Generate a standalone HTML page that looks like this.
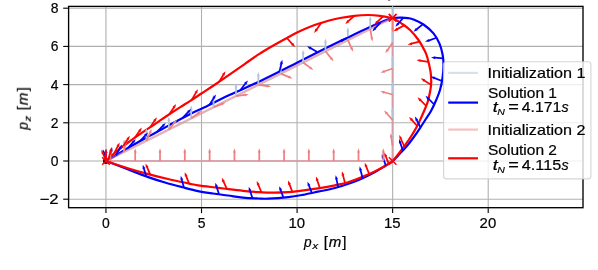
<!DOCTYPE html>
<html><head><meta charset="utf-8"><title>Trajectory plot</title>
<style>html,body{margin:0;padding:0;background:#fff;}body{width:598px;height:270px;position:relative;overflow:hidden;font-family:"Liberation Sans",sans-serif;}</style></head>
<body>
<svg width="598" height="270" viewBox="0 0 598 270" style="display:block;position:absolute;left:0;top:0">
<rect width="598" height="270" fill="#ffffff"/>
<rect x="388" y="0" width="2.2" height="0.8" fill="#666"/>
<defs><filter id="tf" x="-5%" y="-5%" width="110%" height="110%" color-interpolation-filters="sRGB"><feOffset dx="0" dy="0"/></filter><clipPath id="ax"><rect x="68.60" y="6.40" width="514.40" height="201.30"/></clipPath></defs>
<g stroke="#b0b0b0" stroke-width="1.1" fill="none"><path d="M105.95,6.40 V207.70"/><path d="M201.51,6.40 V207.70"/><path d="M297.08,6.40 V207.70"/><path d="M392.64,6.40 V207.70"/><path d="M488.21,6.40 V207.70"/><path d="M68.60,8.20 H583.00"/><path d="M68.60,46.40 H583.00"/><path d="M68.60,84.60 H583.00"/><path d="M68.60,122.80 H583.00"/><path d="M68.60,161.00 H583.00"/><path d="M68.60,199.20 H583.00"/></g>
<g clip-path="url(#ax)">
<circle cx="105.95" cy="161.00" r="2.9" fill="#000"/>
<path d="M105.95,161.00 L392.64,17.75 L392.64,161.00 L105.95,161.00" stroke="#b0c4de" stroke-opacity="0.5" stroke-width="2.20" fill="none" stroke-linejoin="round"/>
<path d="M106.00,161.00 C107.67,160.03 111.98,157.57 116.00,155.20 C120.02,152.83 124.40,150.07 130.10,146.80 C135.80,143.53 143.50,139.30 150.20,135.60 C156.90,131.90 163.62,128.20 170.30,124.60 C176.98,121.00 184.68,116.85 190.30,114.00 C195.92,111.15 197.38,110.70 204.00,107.50 C210.62,104.30 220.42,99.30 230.00,94.80 C239.58,90.30 250.33,85.83 261.50,80.50 C272.67,75.17 286.32,68.17 297.00,62.80 C307.68,57.43 317.25,52.45 325.60,48.30 C333.95,44.15 339.70,41.43 347.10,37.90 C354.50,34.37 363.68,29.98 370.00,27.10 C376.32,24.22 381.23,22.12 385.00,20.60 C388.77,19.08 389.82,18.50 392.60,18.00 C395.38,17.50 399.13,17.58 401.70,17.60 C404.27,17.62 406.05,17.80 408.00,18.10 C409.95,18.40 410.82,18.33 413.40,19.40 C415.98,20.47 420.15,22.17 423.50,24.50 C426.85,26.83 430.85,30.25 433.50,33.40 C436.15,36.55 437.87,39.80 439.40,43.40 C440.93,47.00 442.02,51.23 442.70,55.00 C443.38,58.77 443.53,62.17 443.50,66.00 C443.47,69.83 443.08,74.00 442.50,78.00 C441.92,82.00 441.05,86.33 440.00,90.00 C438.95,93.67 437.70,96.50 436.20,100.00 C434.70,103.50 432.67,107.92 431.00,111.00 C429.33,114.08 428.00,115.70 426.20,118.50 C424.40,121.30 422.20,124.80 420.20,127.80 C418.20,130.80 416.42,133.47 414.20,136.50 C411.98,139.53 409.27,143.17 406.90,146.00 C404.53,148.83 402.37,151.00 400.00,153.50 C397.63,156.00 395.15,158.95 392.70,161.00 C390.25,163.05 388.25,163.97 385.30,165.80 C382.35,167.63 378.78,169.93 375.00,172.00 C371.22,174.07 366.77,176.32 362.60,178.20 C358.43,180.08 354.60,181.67 350.00,183.30 C345.40,184.93 340.33,186.60 335.00,188.00 C329.67,189.40 323.33,190.57 318.00,191.70 C312.67,192.83 307.95,193.90 303.00,194.80 C298.05,195.70 294.10,196.45 288.30,197.10 C282.50,197.75 273.22,198.47 268.20,198.70 C263.18,198.93 262.40,198.68 258.20,198.50 C254.00,198.32 248.03,198.10 243.00,197.60 C237.97,197.10 233.00,196.18 228.00,195.50 C223.00,194.82 218.00,194.23 213.00,193.50 C208.00,192.77 203.12,192.15 198.00,191.10 C192.88,190.05 187.80,188.63 182.30,187.20 C176.80,185.77 170.68,184.18 165.00,182.50 C159.32,180.82 154.53,179.35 148.20,177.10 C141.87,174.85 134.03,171.68 127.00,169.00 C119.97,166.32 109.50,162.33 106.00,161.00" stroke="#0000ff" stroke-width="2.20" fill="none" stroke-linejoin="round" stroke-linecap="round"/>
<path d="M105.95,161.00 L392.64,161.00 L392.64,17.75 L105.95,161.00" stroke="#f08080" stroke-opacity="0.5" stroke-width="2.20" fill="none" stroke-linejoin="round"/>
<path d="M106.00,161.00 C106.83,160.20 109.33,157.73 111.00,156.20 C112.67,154.67 113.48,153.83 116.00,151.80 C118.52,149.77 122.42,146.73 126.10,144.00 C129.78,141.27 133.92,138.30 138.10,135.40 C142.28,132.50 147.52,129.10 151.20,126.60 C154.88,124.10 157.02,122.57 160.20,120.40 C163.38,118.23 166.95,115.82 170.30,113.60 C173.65,111.38 176.97,109.23 180.30,107.10 C183.63,104.97 186.78,103.07 190.30,100.80 C193.82,98.53 197.27,96.22 201.40,93.50 C205.53,90.78 210.00,87.93 215.10,84.50 C220.20,81.07 227.02,76.35 232.00,72.90 C236.98,69.45 240.50,66.92 245.00,63.80 C249.50,60.68 254.50,57.12 259.00,54.20 C263.50,51.28 267.67,48.83 272.00,46.30 C276.33,43.77 280.73,41.33 285.00,39.00 C289.27,36.67 293.10,34.47 297.60,32.30 C302.10,30.13 306.88,27.92 312.00,26.00 C317.12,24.08 323.63,22.13 328.30,20.80 C332.97,19.47 335.65,18.83 340.00,18.00 C344.35,17.17 349.73,16.30 354.40,15.80 C359.07,15.30 363.73,14.98 368.00,15.00 C372.27,15.02 375.90,15.35 380.00,15.90 C384.10,16.45 388.98,17.02 392.60,18.30 C396.22,19.58 398.78,21.65 401.70,23.60 C404.62,25.55 407.30,27.27 410.10,30.00 C412.90,32.73 416.13,36.67 418.50,40.00 C420.87,43.33 422.85,47.17 424.30,50.00 C425.75,52.83 426.15,53.33 427.20,57.00 C428.25,60.67 429.93,67.83 430.60,72.00 C431.27,76.17 431.23,79.00 431.20,82.00 C431.17,85.00 430.90,87.00 430.40,90.00 C429.90,93.00 428.90,97.33 428.20,100.00 C427.50,102.67 427.37,103.08 426.20,106.00 C425.03,108.92 422.70,114.17 421.20,117.50 C419.70,120.83 418.90,122.83 417.20,126.00 C415.50,129.17 413.08,133.23 411.00,136.50 C408.92,139.77 407.75,141.52 404.70,145.60 C401.65,149.68 395.43,157.93 392.70,161.00 C389.97,164.07 389.70,163.08 388.30,164.00 C386.90,164.92 387.48,164.83 384.30,166.50 C381.12,168.17 375.23,171.38 369.20,174.00 C363.17,176.62 353.80,180.32 348.10,182.20 C342.40,184.08 340.02,184.28 335.00,185.30 C329.98,186.32 324.12,187.33 318.00,188.30 C311.88,189.27 303.30,190.45 298.30,191.10 C293.30,191.75 292.00,191.93 288.00,192.20 C284.00,192.47 279.27,192.72 274.30,192.70 C269.33,192.68 263.42,192.42 258.20,192.10 C252.98,191.78 248.03,191.30 243.00,190.80 C237.97,190.30 232.17,189.60 228.00,189.10 C223.83,188.60 223.00,188.42 218.00,187.80 C213.00,187.18 202.95,186.13 198.00,185.40 C193.05,184.67 193.30,184.47 188.30,183.40 C183.30,182.33 174.68,180.55 168.00,179.00 C161.32,177.45 155.03,175.93 148.20,174.10 C141.37,172.27 134.03,170.18 127.00,168.00 C119.97,165.82 109.50,162.17 106.00,161.00" stroke="#ff0000" stroke-width="2.20" fill="none" stroke-linejoin="round" stroke-linecap="round"/>
<path d="M392.64,17.75 L392.64,8.65" stroke="#b0c4de" stroke-width="1.75" fill="none"/><path d="M392.64,4.95 L394.12,9.15 L391.17,9.15 Z" fill="#b0c4de"/>
<path d="M370.26,28.93 L370.26,19.83" stroke="#b0c4de" stroke-width="1.75" fill="none"/><path d="M370.26,16.13 L371.74,20.33 L368.79,20.33 Z" fill="#b0c4de"/>
<path d="M347.88,40.12 L347.88,31.02" stroke="#b0c4de" stroke-width="1.75" fill="none"/><path d="M347.88,27.32 L349.36,31.52 L346.41,31.52 Z" fill="#b0c4de"/>
<path d="M325.50,51.30 L325.50,42.20" stroke="#b0c4de" stroke-width="1.75" fill="none"/><path d="M325.50,38.50 L326.98,42.70 L324.03,42.70 Z" fill="#b0c4de"/>
<path d="M303.12,62.48 L303.12,53.38" stroke="#b0c4de" stroke-width="1.75" fill="none"/><path d="M303.12,49.68 L304.59,53.88 L301.64,53.88 Z" fill="#b0c4de"/>
<path d="M280.74,73.67 L280.74,64.57" stroke="#b0c4de" stroke-width="1.75" fill="none"/><path d="M280.74,60.87 L282.21,65.07 L279.26,65.07 Z" fill="#b0c4de"/>
<path d="M258.36,84.85 L258.36,75.75" stroke="#b0c4de" stroke-width="1.75" fill="none"/><path d="M258.36,72.05 L259.83,76.25 L256.88,76.25 Z" fill="#b0c4de"/>
<path d="M235.97,96.03 L235.97,86.93" stroke="#b0c4de" stroke-width="1.75" fill="none"/><path d="M235.97,83.23 L237.45,87.43 L234.50,87.43 Z" fill="#b0c4de"/>
<path d="M213.59,107.22 L213.59,98.12" stroke="#b0c4de" stroke-width="1.75" fill="none"/><path d="M213.59,94.42 L215.07,98.62 L212.12,98.62 Z" fill="#b0c4de"/>
<path d="M191.21,118.40 L191.21,109.30" stroke="#b0c4de" stroke-width="1.75" fill="none"/><path d="M191.21,105.60 L192.69,109.80 L189.74,109.80 Z" fill="#b0c4de"/>
<path d="M168.83,129.58 L168.83,120.48" stroke="#b0c4de" stroke-width="1.75" fill="none"/><path d="M168.83,116.78 L170.30,120.98 L167.35,120.98 Z" fill="#b0c4de"/>
<path d="M146.45,140.77 L146.45,131.67" stroke="#b0c4de" stroke-width="1.75" fill="none"/><path d="M146.45,127.97 L147.92,132.17 L144.97,132.17 Z" fill="#b0c4de"/>
<path d="M124.07,151.95 L124.07,142.85" stroke="#b0c4de" stroke-width="1.75" fill="none"/><path d="M124.07,139.15 L125.54,143.35 L122.59,143.35 Z" fill="#b0c4de"/>
<path d="M392.64,42.70 L392.64,33.60" stroke="#b0c4de" stroke-width="1.75" fill="none"/><path d="M392.64,29.90 L394.12,34.10 L391.17,34.10 Z" fill="#b0c4de"/>
<path d="M392.64,68.50 L392.64,59.40" stroke="#b0c4de" stroke-width="1.75" fill="none"/><path d="M392.64,55.70 L394.12,59.90 L391.17,59.90 Z" fill="#b0c4de"/>
<path d="M392.64,94.50 L392.64,85.40" stroke="#b0c4de" stroke-width="1.75" fill="none"/><path d="M392.64,81.70 L394.12,85.90 L391.17,85.90 Z" fill="#b0c4de"/>
<path d="M392.64,120.00 L392.64,110.90" stroke="#b0c4de" stroke-width="1.75" fill="none"/><path d="M392.64,107.20 L394.12,111.40 L391.17,111.40 Z" fill="#b0c4de"/>
<path d="M392.64,145.80 L392.64,136.70" stroke="#b0c4de" stroke-width="1.75" fill="none"/><path d="M392.64,133.00 L394.12,137.20 L391.17,137.20 Z" fill="#b0c4de"/>
<path d="M209.51,104.80 L214.01,97.59" stroke="#0000ff" stroke-width="1.75" fill="none"/><path d="M215.97,94.45 L215.00,98.80 L212.50,97.23 Z" fill="#0000ff"/>
<path d="M240.46,90.05 L245.64,83.31" stroke="#0000ff" stroke-width="1.75" fill="none"/><path d="M247.90,80.38 L246.51,84.61 L244.17,82.81 Z" fill="#0000ff"/>
<path d="M279.43,71.66 L281.46,63.41" stroke="#0000ff" stroke-width="1.75" fill="none"/><path d="M282.34,59.81 L282.77,64.24 L279.91,63.54 Z" fill="#0000ff"/>
<path d="M317.76,52.25 L310.34,48.09" stroke="#0000ff" stroke-width="1.75" fill="none"/><path d="M307.11,46.29 L311.50,47.05 L310.06,49.63 Z" fill="#0000ff"/>
<path d="M349.37,36.82 L341.78,40.65" stroke="#0000ff" stroke-width="1.75" fill="none"/><path d="M338.48,42.32 L341.56,39.11 L342.90,41.74 Z" fill="#0000ff"/>
<path d="M380.61,22.42 L374.85,28.66" stroke="#0000ff" stroke-width="1.75" fill="none"/><path d="M372.34,31.38 L374.10,27.30 L376.27,29.30 Z" fill="#0000ff"/>
<path d="M403.49,17.64 L397.83,23.98" stroke="#0000ff" stroke-width="1.75" fill="none"/><path d="M395.37,26.74 L397.06,22.63 L399.26,24.59 Z" fill="#0000ff"/>
<path d="M422.99,24.15 L416.38,29.49" stroke="#0000ff" stroke-width="1.75" fill="none"/><path d="M413.50,31.82 L415.84,28.03 L417.69,30.33 Z" fill="#0000ff"/>
<path d="M436.58,37.74 L428.56,40.56" stroke="#0000ff" stroke-width="1.75" fill="none"/><path d="M425.07,41.79 L428.54,39.00 L429.52,41.79 Z" fill="#0000ff"/>
<path d="M443.18,58.31 L434.70,57.72" stroke="#0000ff" stroke-width="1.75" fill="none"/><path d="M431.01,57.47 L435.30,56.29 L435.10,59.23 Z" fill="#0000ff"/>
<path d="M442.01,81.05 L434.12,77.89" stroke="#0000ff" stroke-width="1.75" fill="none"/><path d="M430.68,76.52 L435.13,76.71 L434.04,79.45 Z" fill="#0000ff"/>
<path d="M434.20,104.50 L428.19,98.49" stroke="#0000ff" stroke-width="1.75" fill="none"/><path d="M425.57,95.87 L429.59,97.80 L427.50,99.88 Z" fill="#0000ff"/>
<path d="M420.50,127.35 L416.63,119.78" stroke="#0000ff" stroke-width="1.75" fill="none"/><path d="M414.95,116.48 L418.17,119.55 L415.55,120.89 Z" fill="#0000ff"/>
<path d="M402.77,150.60 L400.19,142.50" stroke="#0000ff" stroke-width="1.75" fill="none"/><path d="M399.07,138.97 L401.75,142.53 L398.94,143.42 Z" fill="#0000ff"/>
<path d="M385.74,165.53 L382.99,157.49" stroke="#0000ff" stroke-width="1.75" fill="none"/><path d="M381.79,153.99 L384.54,157.48 L381.75,158.44 Z" fill="#0000ff"/>
<path d="M362.60,178.20 L360.52,169.96" stroke="#0000ff" stroke-width="1.75" fill="none"/><path d="M359.62,166.37 L362.07,170.08 L359.21,170.80 Z" fill="#0000ff"/>
<path d="M338.17,187.13 L336.43,178.81" stroke="#0000ff" stroke-width="1.75" fill="none"/><path d="M335.67,175.19 L337.97,179.00 L335.09,179.60 Z" fill="#0000ff"/>
<path d="M311.84,193.02 L308.80,185.08" stroke="#0000ff" stroke-width="1.75" fill="none"/><path d="M307.48,181.63 L310.36,185.02 L307.60,186.08 Z" fill="#0000ff"/>
<path d="M283.42,197.59 L280.50,189.61" stroke="#0000ff" stroke-width="1.75" fill="none"/><path d="M279.23,186.13 L282.06,189.57 L279.29,190.58 Z" fill="#0000ff"/>
<path d="M252.48,198.25 L249.89,190.15" stroke="#0000ff" stroke-width="1.75" fill="none"/><path d="M248.76,186.63 L251.45,190.18 L248.64,191.08 Z" fill="#0000ff"/>
<path d="M219.00,194.32 L216.43,186.22" stroke="#0000ff" stroke-width="1.75" fill="none"/><path d="M215.31,182.70 L217.99,186.25 L215.17,187.14 Z" fill="#0000ff"/>
<path d="M183.94,187.63 L181.72,179.42" stroke="#0000ff" stroke-width="1.75" fill="none"/><path d="M180.75,175.85 L183.27,179.52 L180.43,180.29 Z" fill="#0000ff"/>
<path d="M146.26,176.40 L143.81,168.26" stroke="#0000ff" stroke-width="1.75" fill="none"/><path d="M142.75,164.71 L145.37,168.31 L142.55,169.16 Z" fill="#0000ff"/>
<path d="M106.27,160.84 L103.85,152.70" stroke="#0000ff" stroke-width="1.75" fill="none"/><path d="M102.79,149.15 L105.40,152.76 L102.58,153.60 Z" fill="#0000ff"/>
<path d="M182.76,117.93 L188.54,111.69" stroke="#0000ff" stroke-width="1.75" fill="none"/><path d="M191.05,108.98 L189.28,113.06 L187.12,111.06 Z" fill="#0000ff"/>
<path d="M157.24,131.72 L163.12,125.58" stroke="#0000ff" stroke-width="1.75" fill="none"/><path d="M165.67,122.91 L163.84,126.96 L161.71,124.92 Z" fill="#0000ff"/>
<path d="M139.78,141.36 L145.58,135.16" stroke="#0000ff" stroke-width="1.75" fill="none"/><path d="M148.11,132.45 L146.32,136.53 L144.16,134.51 Z" fill="#0000ff"/>
<path d="M127.62,148.24 L133.31,141.92" stroke="#0000ff" stroke-width="1.75" fill="none"/><path d="M135.79,139.18 L134.07,143.28 L131.88,141.31 Z" fill="#0000ff"/>
<path d="M116.00,155.20 L120.18,147.80" stroke="#0000ff" stroke-width="1.75" fill="none"/><path d="M121.99,144.57 L121.22,148.96 L118.65,147.51 Z" fill="#0000ff"/>
<path d="M109.08,159.22 L111.26,151.01" stroke="#0000ff" stroke-width="1.75" fill="none"/><path d="M112.21,147.43 L112.56,151.87 L109.71,151.11 Z" fill="#0000ff"/>
<path d="M106.00,161.00 L106.00,152.50" stroke="#0000ff" stroke-width="1.75" fill="none"/><path d="M106.00,148.80 L107.47,153.00 L104.53,153.00 Z" fill="#0000ff"/>
<path d="M110.40,161.00 L110.40,151.90" stroke="#f08080" stroke-width="1.75" fill="none"/><path d="M110.40,148.20 L111.88,152.40 L108.93,152.40 Z" fill="#f08080"/>
<path d="M135.21,161.00 L135.21,151.90" stroke="#f08080" stroke-width="1.75" fill="none"/><path d="M135.21,148.20 L136.69,152.40 L133.74,152.40 Z" fill="#f08080"/>
<path d="M160.02,161.00 L160.02,151.90" stroke="#f08080" stroke-width="1.75" fill="none"/><path d="M160.02,148.20 L161.50,152.40 L158.55,152.40 Z" fill="#f08080"/>
<path d="M184.83,161.00 L184.83,151.90" stroke="#f08080" stroke-width="1.75" fill="none"/><path d="M184.83,148.20 L186.30,152.40 L183.35,152.40 Z" fill="#f08080"/>
<path d="M209.64,161.00 L209.64,151.90" stroke="#f08080" stroke-width="1.75" fill="none"/><path d="M209.64,148.20 L211.11,152.40 L208.16,152.40 Z" fill="#f08080"/>
<path d="M234.45,161.00 L234.45,151.90" stroke="#f08080" stroke-width="1.75" fill="none"/><path d="M234.45,148.20 L235.92,152.40 L232.97,152.40 Z" fill="#f08080"/>
<path d="M259.26,161.00 L259.26,151.90" stroke="#f08080" stroke-width="1.75" fill="none"/><path d="M259.26,148.20 L260.74,152.40 L257.78,152.40 Z" fill="#f08080"/>
<path d="M284.07,161.00 L284.07,151.90" stroke="#f08080" stroke-width="1.75" fill="none"/><path d="M284.07,148.20 L285.55,152.40 L282.59,152.40 Z" fill="#f08080"/>
<path d="M308.88,161.00 L308.88,151.90" stroke="#f08080" stroke-width="1.75" fill="none"/><path d="M308.88,148.20 L310.36,152.40 L307.40,152.40 Z" fill="#f08080"/>
<path d="M333.69,161.00 L333.69,151.90" stroke="#f08080" stroke-width="1.75" fill="none"/><path d="M333.69,148.20 L335.17,152.40 L332.21,152.40 Z" fill="#f08080"/>
<path d="M358.50,161.00 L358.50,151.90" stroke="#f08080" stroke-width="1.75" fill="none"/><path d="M358.50,148.20 L359.98,152.40 L357.02,152.40 Z" fill="#f08080"/>
<path d="M383.31,161.00 L383.31,151.90" stroke="#f08080" stroke-width="1.75" fill="none"/><path d="M383.31,148.20 L384.78,152.40 L381.83,152.40 Z" fill="#f08080"/>
<path d="M392.64,42.70 L387.43,50.15" stroke="#f08080" stroke-width="1.75" fill="none"/><path d="M385.30,53.19 L386.50,48.90 L388.92,50.59 Z" fill="#f08080"/>
<path d="M392.64,68.50 L384.04,71.46" stroke="#f08080" stroke-width="1.75" fill="none"/><path d="M380.54,72.67 L384.03,69.91 L384.99,72.69 Z" fill="#f08080"/>
<path d="M392.64,94.50 L383.83,92.25" stroke="#f08080" stroke-width="1.75" fill="none"/><path d="M380.24,91.34 L384.68,90.95 L383.95,93.81 Z" fill="#f08080"/>
<path d="M392.64,120.00 L386.56,113.24" stroke="#f08080" stroke-width="1.75" fill="none"/><path d="M384.08,110.49 L387.99,112.62 L385.79,114.60 Z" fill="#f08080"/>
<path d="M392.64,145.80 L391.22,136.81" stroke="#f08080" stroke-width="1.75" fill="none"/><path d="M390.64,133.16 L392.76,137.08 L389.84,137.54 Z" fill="#f08080"/>
<path d="M392.64,20.00 L392.64,29.10" stroke="#f08080" stroke-width="1.75" fill="none"/><path d="M392.64,32.80 L391.17,28.60 L394.12,28.60 Z" fill="#f08080"/>
<path d="M370.26,28.93 L371.78,37.91" stroke="#f08080" stroke-width="1.75" fill="none"/><path d="M372.40,41.55 L370.24,37.66 L373.15,37.17 Z" fill="#f08080"/>
<path d="M347.88,40.12 L351.61,48.42" stroke="#f08080" stroke-width="1.75" fill="none"/><path d="M353.13,51.79 L350.06,48.57 L352.75,47.36 Z" fill="#f08080"/>
<path d="M325.50,51.30 L331.20,58.39" stroke="#f08080" stroke-width="1.75" fill="none"/><path d="M333.52,61.28 L329.74,58.93 L332.04,57.08 Z" fill="#f08080"/>
<path d="M303.12,62.48 L310.42,67.91" stroke="#f08080" stroke-width="1.75" fill="none"/><path d="M313.39,70.11 L309.14,68.79 L310.90,66.43 Z" fill="#f08080"/>
<path d="M280.74,73.67 L289.17,77.07" stroke="#f08080" stroke-width="1.75" fill="none"/><path d="M292.60,78.46 L288.16,78.26 L289.26,75.52 Z" fill="#f08080"/>
<path d="M258.36,84.85 L267.38,86.02" stroke="#f08080" stroke-width="1.75" fill="none"/><path d="M271.05,86.50 L266.69,87.42 L267.07,84.49 Z" fill="#f08080"/>
<path d="M235.97,96.03 L245.00,94.89" stroke="#f08080" stroke-width="1.75" fill="none"/><path d="M248.67,94.43 L244.69,96.42 L244.32,93.49 Z" fill="#f08080"/>
<path d="M213.59,107.22 L222.04,103.84" stroke="#f08080" stroke-width="1.75" fill="none"/><path d="M225.48,102.46 L222.12,105.39 L221.03,102.65 Z" fill="#f08080"/>
<path d="M191.21,118.40 L198.54,113.00" stroke="#f08080" stroke-width="1.75" fill="none"/><path d="M201.51,110.80 L199.01,114.48 L197.26,112.11 Z" fill="#f08080"/>
<path d="M168.83,129.58 L174.56,122.51" stroke="#f08080" stroke-width="1.75" fill="none"/><path d="M176.88,119.63 L175.39,123.83 L173.09,121.97 Z" fill="#f08080"/>
<path d="M146.45,140.77 L150.21,132.48" stroke="#f08080" stroke-width="1.75" fill="none"/><path d="M151.74,129.11 L151.34,133.54 L148.66,132.32 Z" fill="#f08080"/>
<path d="M124.07,151.95 L125.61,142.98" stroke="#f08080" stroke-width="1.75" fill="none"/><path d="M126.24,139.34 L126.98,143.72 L124.08,143.22 Z" fill="#f08080"/>
<path d="M106.14,160.87 L102.81,153.05" stroke="#ff0000" stroke-width="1.75" fill="none"/><path d="M101.36,149.64 L104.36,152.93 L101.65,154.08 Z" fill="#ff0000"/>
<path d="M150.23,174.64 L146.96,166.80" stroke="#ff0000" stroke-width="1.75" fill="none"/><path d="M145.53,163.39 L148.51,166.69 L145.79,167.83 Z" fill="#ff0000"/>
<path d="M189.01,183.55 L186.00,175.61" stroke="#ff0000" stroke-width="1.75" fill="none"/><path d="M184.69,172.15 L187.56,175.55 L184.80,176.60 Z" fill="#ff0000"/>
<path d="M226.84,188.96 L223.33,181.22" stroke="#ff0000" stroke-width="1.75" fill="none"/><path d="M221.79,177.85 L224.87,181.07 L222.19,182.29 Z" fill="#ff0000"/>
<path d="M261.40,192.28 L258.13,184.44" stroke="#ff0000" stroke-width="1.75" fill="none"/><path d="M256.71,181.02 L259.69,184.33 L256.96,185.47 Z" fill="#ff0000"/>
<path d="M292.34,191.84 L289.30,183.90" stroke="#ff0000" stroke-width="1.75" fill="none"/><path d="M287.98,180.45 L290.86,183.84 L288.10,184.90 Z" fill="#ff0000"/>
<path d="M319.83,188.01 L317.14,179.94" stroke="#ff0000" stroke-width="1.75" fill="none"/><path d="M315.97,176.43 L318.70,179.95 L315.90,180.89 Z" fill="#ff0000"/>
<path d="M345.03,183.15 L342.91,174.92" stroke="#ff0000" stroke-width="1.75" fill="none"/><path d="M341.99,171.33 L344.46,175.03 L341.61,175.77 Z" fill="#ff0000"/>
<path d="M369.20,174.00 L366.04,166.11" stroke="#ff0000" stroke-width="1.75" fill="none"/><path d="M364.67,162.67 L367.60,166.02 L364.86,167.12 Z" fill="#ff0000"/>
<path d="M388.69,163.78 L385.64,155.84" stroke="#ff0000" stroke-width="1.75" fill="none"/><path d="M384.31,152.39 L387.19,155.78 L384.44,156.84 Z" fill="#ff0000"/>
<path d="M404.22,146.24 L400.73,138.49" stroke="#ff0000" stroke-width="1.75" fill="none"/><path d="M399.21,135.12 L402.28,138.34 L399.59,139.55 Z" fill="#ff0000"/>
<path d="M417.20,126.00 L411.54,119.66" stroke="#ff0000" stroke-width="1.75" fill="none"/><path d="M409.08,116.89 L412.98,119.05 L410.78,121.01 Z" fill="#ff0000"/>
<path d="M426.20,106.00 L420.19,99.99" stroke="#ff0000" stroke-width="1.75" fill="none"/><path d="M417.57,97.37 L421.59,99.30 L419.50,101.39 Z" fill="#ff0000"/>
<path d="M431.08,84.87 L423.91,80.29" stroke="#ff0000" stroke-width="1.75" fill="none"/><path d="M420.80,78.30 L425.13,79.32 L423.54,81.81 Z" fill="#ff0000"/>
<path d="M428.46,61.86 L420.06,60.56" stroke="#ff0000" stroke-width="1.75" fill="none"/><path d="M416.41,59.99 L420.78,59.18 L420.33,62.09 Z" fill="#ff0000"/>
<path d="M419.54,41.53 L411.32,43.70" stroke="#ff0000" stroke-width="1.75" fill="none"/><path d="M407.74,44.64 L411.43,42.14 L412.18,44.99 Z" fill="#ff0000"/>
<path d="M404.27,25.33 L396.80,29.38" stroke="#ff0000" stroke-width="1.75" fill="none"/><path d="M393.55,31.15 L396.54,27.85 L397.95,30.44 Z" fill="#ff0000"/>
<path d="M383.19,16.33 L376.96,22.11" stroke="#ff0000" stroke-width="1.75" fill="none"/><path d="M374.25,24.63 L376.32,20.69 L378.33,22.85 Z" fill="#ff0000"/>
<path d="M354.40,15.80 L348.05,21.45" stroke="#ff0000" stroke-width="1.75" fill="none"/><path d="M345.28,23.91 L347.44,20.01 L349.40,22.22 Z" fill="#ff0000"/>
<path d="M321.17,22.92 L316.30,29.88" stroke="#ff0000" stroke-width="1.75" fill="none"/><path d="M314.18,32.91 L315.38,28.62 L317.79,30.32 Z" fill="#ff0000"/>
<path d="M286.89,37.96 L292.56,44.30" stroke="#ff0000" stroke-width="1.75" fill="none"/><path d="M295.03,47.05 L291.13,44.91 L293.33,42.94 Z" fill="#ff0000"/>
<path d="M219.19,81.72 L223.56,74.44" stroke="#ff0000" stroke-width="1.75" fill="none"/><path d="M225.47,71.26 L224.57,75.62 L222.04,74.11 Z" fill="#ff0000"/>
<path d="M191.88,99.78 L196.10,92.40" stroke="#ff0000" stroke-width="1.75" fill="none"/><path d="M197.93,89.18 L197.13,93.56 L194.57,92.10 Z" fill="#ff0000"/>
<path d="M169.29,114.27 L174.00,107.20" stroke="#ff0000" stroke-width="1.75" fill="none"/><path d="M176.06,104.12 L174.95,108.43 L172.50,106.80 Z" fill="#ff0000"/>
<path d="M150.05,127.38 L154.85,120.36" stroke="#ff0000" stroke-width="1.75" fill="none"/><path d="M156.94,117.31 L155.79,121.61 L153.35,119.94 Z" fill="#ff0000"/>
<path d="M134.98,137.58 L139.78,130.57" stroke="#ff0000" stroke-width="1.75" fill="none"/><path d="M141.87,127.52 L140.72,131.82 L138.28,130.15 Z" fill="#ff0000"/>
<path d="M123.32,146.09 L127.88,138.91" stroke="#ff0000" stroke-width="1.75" fill="none"/><path d="M129.86,135.78 L128.85,140.12 L126.36,138.54 Z" fill="#ff0000"/>
<path d="M114.13,153.36 L118.02,145.80" stroke="#ff0000" stroke-width="1.75" fill="none"/><path d="M119.72,142.51 L119.10,146.92 L116.48,145.57 Z" fill="#ff0000"/>
<path d="M108.47,158.60 L110.89,150.45" stroke="#ff0000" stroke-width="1.75" fill="none"/><path d="M111.95,146.91 L112.16,151.35 L109.34,150.51 Z" fill="#ff0000"/>
<path d="M106.00,161.00 L106.00,152.50" stroke="#ff0000" stroke-width="1.75" fill="none"/><path d="M106.00,148.80 L107.47,153.00 L104.53,153.00 Z" fill="#ff0000"/>
</g>
<path d="M388.84,13.95 L396.44,21.55 M388.84,21.55 L396.44,13.95" stroke="#ff0000" stroke-width="1.45" fill="none"/>
<path d="M388.84,157.20 L396.44,164.80 M388.84,164.80 L396.44,157.20" stroke="#ff0000" stroke-width="1.45" fill="none"/>
<path d="M102.15,157.20 L109.75,164.80 M102.15,164.80 L109.75,157.20" stroke="#ff0000" stroke-width="1.45" fill="none"/>
<rect x="68.60" y="6.40" width="514.40" height="201.30" fill="none" stroke="#000" stroke-width="1.35"/>
<path d="M392.64,17.75 L392.64,8.65" stroke="#b0c4de" stroke-width="1.75" fill="none"/><path d="M392.64,4.95 L394.12,9.15 L391.17,9.15 Z" fill="#b0c4de"/>
<path d="M388.84,13.95 L396.44,21.55 M388.84,21.55 L396.44,13.95" stroke="#ff0000" stroke-width="1.45" fill="none"/>
<g stroke="#000" stroke-width="1.1"><path d="M105.95,208.20 v4.9"/><path d="M201.51,208.20 v4.9"/><path d="M297.08,208.20 v4.9"/><path d="M392.64,208.20 v4.9"/><path d="M488.21,208.20 v4.9"/><path d="M68.10,8.20 h-4.9"/><path d="M68.10,46.40 h-4.9"/><path d="M68.10,84.60 h-4.9"/><path d="M68.10,122.80 h-4.9"/><path d="M68.10,161.00 h-4.9"/><path d="M68.10,199.20 h-4.9"/></g>
<g font-family="'Liberation Sans', sans-serif" font-size="13.9" fill="#000" stroke="#000" stroke-width="0.2" filter="url(#tf)">
<text x="105.95" y="228.2" text-anchor="middle">0</text>
<text x="201.51" y="228.2" text-anchor="middle">5</text>
<text x="296.78" y="228.2" text-anchor="middle" textLength="16.6" lengthAdjust="spacingAndGlyphs">10</text>
<text x="392.34" y="228.2" text-anchor="middle" textLength="16.6" lengthAdjust="spacingAndGlyphs">15</text>
<text x="487.91" y="228.2" text-anchor="middle" textLength="16.6" lengthAdjust="spacingAndGlyphs">20</text>
<text x="58.6" y="13.20" text-anchor="end">8</text>
<text x="58.6" y="51.40" text-anchor="end">6</text>
<text x="58.6" y="89.60" text-anchor="end">4</text>
<text x="58.6" y="127.80" text-anchor="end">2</text>
<text x="58.6" y="166.00" text-anchor="end">0</text>
<text x="58.6" y="204.20" text-anchor="end" textLength="19.0" lengthAdjust="spacingAndGlyphs">−2</text>
</g>
<g transform="translate(304.1,246.7)"><g font-family="'Liberation Sans', sans-serif" fill="#000" stroke="#000" stroke-width="0.2" filter="url(#tf)"><text x="0" y="0" font-size="13.9" font-style="italic" textLength="7.6" lengthAdjust="spacingAndGlyphs">p</text><text x="8.3" y="2.6" font-size="9.7" font-style="italic" textLength="5.6" lengthAdjust="spacingAndGlyphs">x</text><text x="19.6" y="0" font-size="13.9" textLength="4.2" lengthAdjust="spacingAndGlyphs">[</text><text x="24.6" y="0" font-size="13.9" font-style="italic" textLength="12.6" lengthAdjust="spacingAndGlyphs">m</text><text x="38.2" y="0" font-size="13.9" textLength="4.2" lengthAdjust="spacingAndGlyphs">]</text></g></g>
<g transform="translate(27.8,129.7) rotate(-90)"><g font-family="'Liberation Sans', sans-serif" fill="#000" stroke="#000" stroke-width="0.2" filter="url(#tf)"><text x="0" y="0" font-size="13.9" font-style="italic" textLength="7.6" lengthAdjust="spacingAndGlyphs">p</text><text x="8.3" y="2.6" font-size="9.7" font-style="italic" textLength="5.6" lengthAdjust="spacingAndGlyphs">z</text><text x="19.6" y="0" font-size="13.9" textLength="4.2" lengthAdjust="spacingAndGlyphs">[</text><text x="24.6" y="0" font-size="13.9" font-style="italic" textLength="12.6" lengthAdjust="spacingAndGlyphs">m</text><text x="38.2" y="0" font-size="13.9" textLength="4.2" lengthAdjust="spacingAndGlyphs">]</text></g></g>
<rect x="443.6" y="61.7" width="147.3" height="117.2" rx="2.8" ry="2.8" fill="#ffffff" fill-opacity="0.8" stroke="#cccccc" stroke-opacity="0.8" stroke-width="1.1"/>
<path d="M448.2,72.90 H478" stroke="#b0c4de" stroke-opacity="0.5" stroke-width="2.2"/>
<path d="M448.2,102.60 H478" stroke="#0000ff" stroke-opacity="1" stroke-width="2.2"/>
<path d="M448.2,129.60 H478" stroke="#f08080" stroke-opacity="0.5" stroke-width="2.2"/>
<path d="M448.2,158.30 H478" stroke="#ff0000" stroke-opacity="1" stroke-width="2.2"/>
<g font-family="'Liberation Sans', sans-serif" font-size="13.9" fill="#000" stroke="#000" stroke-width="0.2" filter="url(#tf)">
<text x="487.5" y="78" textLength="98" lengthAdjust="spacingAndGlyphs">Initialization 1</text>
<text x="488" y="97.6" textLength="69" lengthAdjust="spacingAndGlyphs">Solution 1</text>
<text x="487.5" y="134.9" textLength="98" lengthAdjust="spacingAndGlyphs">Initialization 2</text>
<text x="488" y="155" textLength="69" lengthAdjust="spacingAndGlyphs">Solution 2</text>
<text x="492.8" y="112.40" font-style="italic" textLength="5" lengthAdjust="spacingAndGlyphs">t</text><text x="497.3" y="115.10" font-size="9.7" font-style="italic" textLength="7.6" lengthAdjust="spacingAndGlyphs">N</text><text x="508.3" y="112.40" textLength="10.6" lengthAdjust="spacingAndGlyphs">=</text><text x="521.8" y="112.40" textLength="39.4" lengthAdjust="spacingAndGlyphs">4.171</text><text x="561.4" y="112.40" font-style="italic" textLength="7.2" lengthAdjust="spacingAndGlyphs">s</text>
<text x="492.8" y="170.10" font-style="italic" textLength="5" lengthAdjust="spacingAndGlyphs">t</text><text x="497.3" y="172.80" font-size="9.7" font-style="italic" textLength="7.6" lengthAdjust="spacingAndGlyphs">N</text><text x="508.3" y="170.10" textLength="10.6" lengthAdjust="spacingAndGlyphs">=</text><text x="521.8" y="170.10" textLength="39.4" lengthAdjust="spacingAndGlyphs">4.115</text><text x="561.4" y="170.10" font-style="italic" textLength="7.2" lengthAdjust="spacingAndGlyphs">s</text>
</g>
</svg>
</body></html>
